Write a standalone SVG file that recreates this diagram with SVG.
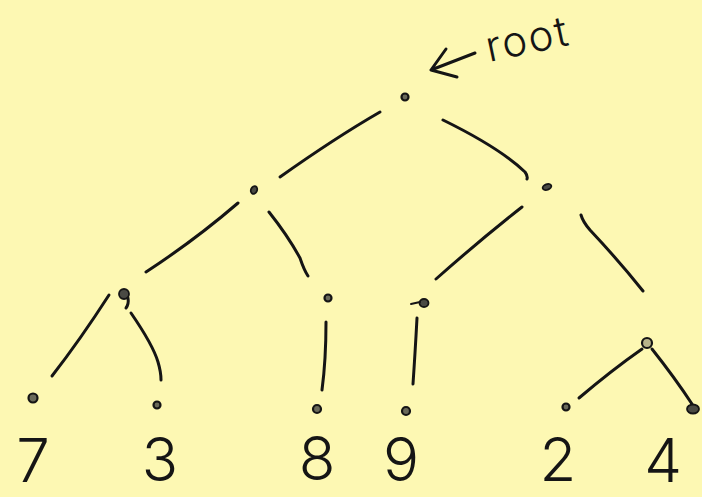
<svg xmlns="http://www.w3.org/2000/svg" width="702" height="497" viewBox="0 0 702 497">
  <style>
    .edge { fill: none; stroke: #151515; stroke-width: 3; stroke-linecap: round; stroke-linejoin: round; }
    .ring { fill: #6a6a5a; stroke: #151515; stroke-width: 2.2; }
    .dot { fill: #4a4a44; stroke: #151515; stroke-width: 1.8; }
    .digit { font-family: "Inter", "Liberation Sans", sans-serif; font-weight: 300; font-size: 60px; fill: #151515; text-anchor: middle; }
    .note { font-family: "Inter", "Liberation Sans", sans-serif; font-weight: 300; font-size: 42px; fill: #151515; }
  </style>
  <rect width="702" height="497" fill="#fdf8b3"/>

  <!-- tree edges, drawn with gaps around each node -->
  <g id="connectors">
    <path class="edge" d="M380,112 Q335,138 280,177"/>
    <path class="edge" d="M443,120 Q500,148 525,172 Q528,176 527,179"/>
    <path class="edge" d="M238,203 Q195,240 146,272"/>
    <path class="edge" d="M269,212 Q288,236 300,258 Q304,270 308,276"/>
    <path class="edge" d="M522,207 Q480,240 436,279"/>
    <path class="edge" d="M581,215 Q583,222 590,230 Q620,262 643,291"/>
    <path class="edge" d="M109,295 Q80,340 52,376"/>
    <path class="edge" d="M131,313 Q153,345 158,362 Q161,372 161,380"/>
    <path class="edge" d="M326,322 Q326,360 322,390"/>
    <path class="edge" d="M417,318 Q415,355 413,384"/>
    <path class="edge" d="M642,349 Q612,370 579,398"/>
    <path class="edge" d="M652,349 Q675,378 692,404"/>
    <!-- pointer to the root -->
    <path class="edge" d="M475,53 L431,70 M446,49 L431,70 L457,77"/>
  </g>

  <text class="note" transform="translate(489,62) rotate(-12)" letter-spacing="2">root</text>

  <g id="root"><circle class="ring" cx="405" cy="97" r="3.5"/></g>
  <g id="n-left"><ellipse class="dot" cx="254" cy="190" rx="3" ry="4" transform="rotate(25 254 190)"/></g>
  <g id="n-right"><ellipse class="dot" cx="547" cy="187" rx="4.5" ry="2.8" transform="rotate(-20 547 187)"/></g>
  <g id="n-ll">
    <circle class="dot" cx="124" cy="294" r="5"/>
    <path class="edge" d="M128,298 Q129,304 126,308"/>
  </g>
  <g id="n-lr"><circle class="ring" cx="328" cy="298" r="3.5"/></g>
  <g id="n-rl">
    <ellipse class="dot" cx="424" cy="303" rx="4.5" ry="4"/>
    <path class="edge" d="M420,302 L411,304" style="stroke-width:2"/>
  </g>
  <g id="n-rr"><circle class="ring" cx="647" cy="343" r="5" style="fill:#b8b48a"/></g>

  <g id="leaf-7"><circle class="ring" cx="33" cy="398" r="4.5"/><text class="digit" x="33" y="482">7</text></g>
  <g id="leaf-3"><circle class="ring" cx="157" cy="405" r="3.5"/><text class="digit" x="160" y="481">3</text></g>
  <g id="leaf-8"><circle class="ring" cx="317" cy="409" r="4"/><text class="digit" x="317" y="480">8</text></g>
  <g id="leaf-9"><circle class="ring" cx="406" cy="411" r="4"/><text class="digit" x="401" y="481">9</text></g>
  <g id="leaf-2"><circle class="ring" cx="566" cy="407" r="3.5"/><text class="digit" x="558" y="481">2</text></g>
  <g id="leaf-4"><ellipse class="dot" cx="693" cy="409" rx="6" ry="4.5"/><text class="digit" x="663" y="482">4</text></g>
</svg>
